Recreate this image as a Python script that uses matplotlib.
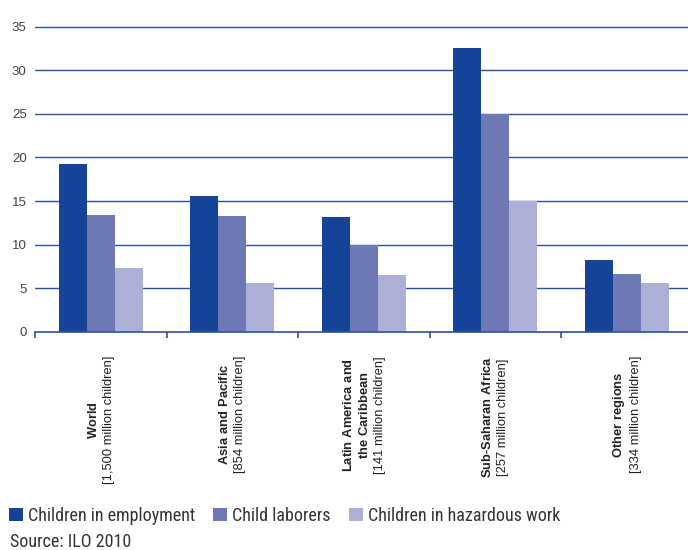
import matplotlib
matplotlib.use("Agg")
import matplotlib.pyplot as plt
import numpy as np
from matplotlib.patches import Patch

# data (percent of children)
regions = ["World", "Asia and Pacific", "Latin America and\nthe Caribbean",
           "Sub-Saharan Africa", "Other regions"]
populations = ["[1,500 million children]", "[854 million children]",
               "[141 million children]", "[257 million children]",
               "[334 million children]"]
series_names = ["Children in employment", "Child laborers",
                "Children in hazardous work"]
employment = [19.2, 15.6, 13.2, 32.5, 8.2]
laborers = [13.4, 13.3, 10.0, 25.0, 6.6]
hazardous = [7.3, 5.6, 6.5, 15.0, 5.6]
yticks = [0, 5, 10, 15, 20, 25, 30, 35]

colors = ["#154397", "#6e78b4", "#adb0d6"]
grid_color = "#2b509f"

plt.rcParams["mathtext.fontset"] = "custom"
plt.rcParams["mathtext.rm"] = "Liberation Sans"
plt.rcParams["mathtext.bf"] = "Liberation Sans:bold"

W, H = 688, 550
fig = plt.figure(figsize=(W / 100, H / 100), dpi=100)
ymax = 36
px_per_unit = (332 - 26.5) / 35
top_px = 332 - ymax * px_per_unit
ax = fig.add_axes([35 / W, 1 - 332 / H, 657.5 / W, (332 - top_px) / H])

x = np.arange(len(regions)) + 0.5
bw = 0.213
for k, vals in enumerate([employment, laborers, hazardous]):
    ax.bar(x + (k - 1) * bw, vals, width=bw, color=colors[k], zorder=3,
           linewidth=0)

for yv in yticks[1:]:
    ax.axhline(yv, color=grid_color, linewidth=1.0, zorder=1)

ax.set_xlim(0, len(regions))
ax.set_ylim(0, ymax)
for s in ["top", "right", "left"]:
    ax.spines[s].set_visible(False)
ax.spines["bottom"].set_color(grid_color)
ax.spines["bottom"].set_linewidth(1.2)
ax.spines["bottom"].set_zorder(4)

ax.set_yticks(yticks)
ax.set_yticklabels([str(v) for v in yticks], fontsize=9.5, color="#444444",
                   family="Liberation Sans")
ax.tick_params(axis="y", length=0, pad=6)
ax.set_xticks(np.arange(len(regions) + 1))
ax.set_xticklabels([])
ax.tick_params(axis="x", length=4, color=grid_color, width=1.2,
               direction="out")

# rotated category labels: bold region name + population line
for xi, name, pop in zip(x, regions, populations):
    bold = "\n".join("$\\bf{" + ln.replace(" ", "\\ ").replace("-", "\u2010") + "}$"
                     for ln in name.split("\n"))
    ax.annotate(bold + "\n" + pop, xy=(xi, 0),
                xycoords=("data", "axes fraction"),
                xytext=(0, -24), textcoords="offset pixels",
                rotation=90, ha="center", va="top", multialignment="center",
                fontsize=9.3, color="#222222", linespacing=1.3,
                family="Liberation Sans")

narrow = ["Roboto Condensed", "DejaVu Sans"]
handles = [Patch(facecolor=c, edgecolor="none") for c in colors]
fig.legend(handles, series_names, loc="center left",
           bbox_to_anchor=(9 / W, 1 - 516 / H), ncol=3, frameon=False,
           handlelength=0.78, handleheight=0.72, handletextpad=0.28,
           columnspacing=1.0, borderaxespad=0, borderpad=0,
           prop={"family": narrow, "size": 13})
for t in fig.legends[0].get_texts():
    t.set_color("#333333")
fig.text(10 / W, 1 - 542 / H, "Source: ILO 2010", family=narrow,
         fontsize=13, color="#333333", va="center", ha="left")

fig.savefig("out.png", dpi=100)
